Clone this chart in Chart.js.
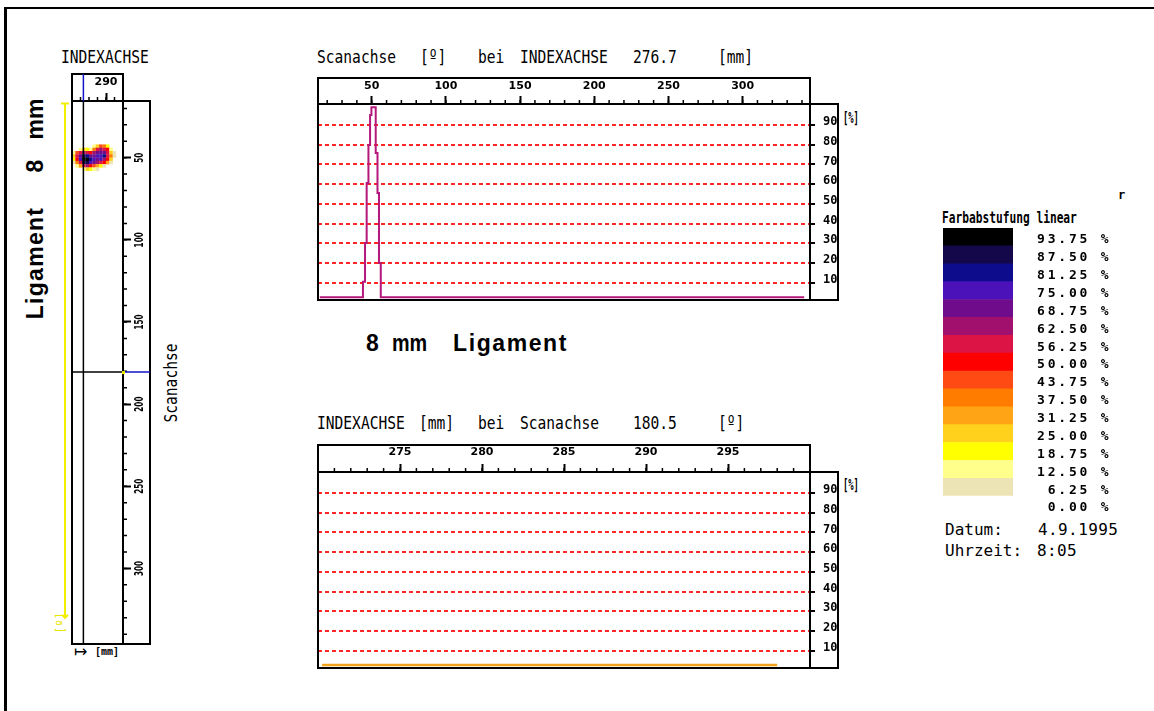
<!DOCTYPE html>
<html lang="de">
<head>
<meta charset="utf-8">
<title>Ligament 8 mm – Scanachse / INDEXACHSE</title>
<script src="https://cdn.jsdelivr.net/npm/chart.js@4.4.1/dist/chart.umd.min.js"></script>
<style>
  html, body { margin: 0; padding: 0; background: #fff; }
  body { position: relative; width: 1154px; height: 711px; overflow: hidden; }
  .frame { position: absolute; left: 4px; top: 7px; width: 1170px; height: 720px;
           border-left: 3px solid #000; border-top: 2px solid #000; }
  canvas { position: absolute; }
  .t { position: absolute; white-space: pre; color: #000; font-family: 'DejaVu Sans Mono', monospace; }
  .hd { font-size: 18px; line-height: 18px; transform: scaleX(0.81); transform-origin: 0 0; }
  .pc { font-size: 16px; line-height: 16px; font-weight: bold; transform: scaleX(0.55); transform-origin: 0 0; }
  .big { font-family: 'Liberation Sans', Arial, sans-serif; font-weight: bold; font-size: 23px; line-height: 23px; }
  .lg { font-size: 16px; line-height: 16px; }
</style>
</head>
<body>
<div class="frame"></div>

<!-- C-scan strip captions -->
<div class="t hd" style="left:61px; top:48px;">INDEXACHSE</div>
<div class="t hd" style="left:170.5px; top:382.5px; transform:translate(-50%,-50%) rotate(-90deg) scaleX(0.81); transform-origin:50% 50%;">Scanachse</div>
<div class="t big" style="left:35px; top:262.5px; letter-spacing:1.3px; transform:translate(-50%,-50%) rotate(-90deg);">Ligament</div>
<div class="t big" style="left:35px; top:165.5px; transform:translate(-50%,-50%) rotate(-90deg);">8</div>
<div class="t big" style="left:35px; top:118.5px; transform:translate(-50%,-50%) rotate(-90deg);">mm</div>
<div class="t" style="left:61px; top:622.5px; font-size:12px; line-height:12px; color:#e6e600; transform:translate(-50%,-50%) rotate(-90deg);">[º]</div>
<div class="t" style="left:74px; top:643.5px; font-size:16px; line-height:16px; font-family:'DejaVu Sans',sans-serif;">↦</div>
<div class="t" style="left:95px; top:647px; font-size:10px; line-height:10px; font-weight:bold;">[mm]</div>

<!-- profile headers -->
<div class="t hd" style="left:317px; top:48px;">Scanachse</div>
<div class="t hd" style="left:420px; top:48px;">[º]</div>
<div class="t hd" style="left:478px; top:48px;">bei</div>
<div class="t hd" style="left:520px; top:48px;">INDEXACHSE</div>
<div class="t hd" style="left:633px; top:48px;">276.7</div>
<div class="t hd" style="left:718px; top:48px;">[mm]</div>
<div class="t pc" style="left:843px; top:109.5px;">[%]</div>

<div class="t big" style="left:366px; top:331.5px;">8</div>
<div class="t big" style="left:392px; top:331.5px; transform:scaleX(0.86); transform-origin:0 0;">mm</div>
<div class="t big" style="left:453px; top:331.5px; letter-spacing:1.6px;">Ligament</div>

<div class="t hd" style="left:317px; top:414px;">INDEXACHSE</div>
<div class="t hd" style="left:419px; top:414px;">[mm]</div>
<div class="t hd" style="left:478px; top:414px;">bei</div>
<div class="t hd" style="left:520px; top:414px;">Scanachse</div>
<div class="t hd" style="left:633px; top:414px;">180.5</div>
<div class="t hd" style="left:718px; top:414px;">[º]</div>
<div class="t pc" style="left:843px; top:477px;">[%]</div>

<!-- colour scale captions -->
<div class="t" style="left:942px; top:210px; font-size:16px; line-height:16px; font-weight:bold; transform:scaleX(0.7); transform-origin:0 0;">Farbabstufung linear</div>
<div class="t" style="left:1118px; top:189px; font-size:12px; line-height:12px; font-weight:bold;">r</div>
<div class="t lg" style="left:945px; top:521.5px;">Datum:</div>
<div class="t lg" style="left:1038px; top:521.5px; letter-spacing:0.4px;">4.9.1995</div>
<div class="t lg" style="left:945px; top:543px;">Uhrzeit:</div>
<div class="t lg" style="left:1037px; top:543px; letter-spacing:0.4px;">8:05</div>

<canvas id="strip" width="140" height="600" style="left:40px; top:60px;"></canvas>
<canvas id="scanProfile" width="580" height="260" style="left:300px; top:60px;"></canvas>
<canvas id="indexProfile" width="580" height="261" style="left:300px; top:427px;"></canvas>
<canvas id="colorScale" width="210" height="366" style="left:930px; top:188px;"></canvas>

<script>
// ---------------- values ----------------
const scanMajorTicks  = [50, 100, 150, 200, 250, 300];
const indexMajorTicks = [275, 280, 285, 290, 295];
const stripIndexTicks = [290];
const percentTicks    = [10, 20, 30, 40, 50, 60, 70, 80, 90];

// axis spans
const scanRange      = [13.8, 345.4];
const stripScanRange = [15.5, 346];
const indexRange     = [270, 300];
const percentRange   = [1.2, 100.7];

// cursor positions shown in the headers
const indexCursor = 276.7;
const scanCursor  = 180.5;
const scanGate    = [17, 330];

// amplitude along the scan axis at INDEXACHSE 276.7 mm (step profile)
const scanPositions  = [15.0, 44.1, 45.5, 46.6, 47.8, 48.9, 49.8, 52.7, 53.9, 54.9, 56.1, 341.5];
const scanAmplitudes = [2.6, 10.5, 30.1, 60.6, 79.9, 95.1, 99.0, 75.8, 55.5, 20.0, 2.6, 2.6];

// amplitude along the index axis at Scanachse 180.5°
const indexPositions  = [270.25, 298.0];
const indexAmplitudes = [2.7, 2.7];

// C-scan cells around the indication (rows: Scanachse °, columns: INDEXACHSE mm, values: %)
const blobIndex = [271, 273, 275, 277, 279, 281, 283, 285, 287, 289, 291, 293, 295];
const blobScan  = [43, 45, 47, 49, 51, 53, 55, 57];
const blobAmp = [
  [ 0,  0,  0,  0,  0,  0, 14, 30, 45, 40, 20,  0,  0],
  [ 0,  0, 14, 25, 20, 18, 40, 58, 66, 62, 52, 15,  0],
  [14, 45, 58, 66, 60, 55, 66, 70, 72, 74, 60, 30,  8],
  [25, 58, 72, 90, 86, 70, 72, 76, 80, 84, 62, 40, 12],
  [20, 55, 76, 99, 96, 82, 78, 72, 76, 68, 55, 28,  0],
  [12, 40, 62, 92, 88, 78, 70, 64, 60, 50, 32, 10,  0],
  [ 0, 14, 35, 58, 64, 56, 46, 34, 22, 12,  0,  0,  0],
  [ 0,  0,  0, 18, 26, 24, 16,  8,  0,  0,  0,  0,  0]
];

// linear colour grading
const levelValues = [0, 6.25, 12.5, 18.75, 25, 31.25, 37.5, 43.75, 50, 56.25, 62.5, 68.75, 75, 81.25, 87.5, 93.75];
const levelColors = ['#ffffff', '#ece4b4', '#ffff8c', '#ffff00', '#ffd01c', '#ffa414', '#ff7c00', '#ff4a14',
                     '#ff0000', '#dc1446', '#a0106c', '#6e0c8c', '#4a12b8', '#0c0c8c', '#14084a', '#000000'];

// ---------------- helpers ----------------
const levelColor = v => {
  let k = 0;
  for (let i = 0; i < levelValues.length; i++) if (v >= levelValues[i]) k = i;
  return levelColors[k];
};

const tickFont = { family: "'DejaVu Sans', sans-serif", weight: 'bold', size: 11 };
const pctFont  = { family: "'DejaVu Sans Mono', monospace", weight: 'bold', size: 12 };

// black boxes: tick band, plot area and side axis box
const frameBoxes = {
  id: 'frameBoxes',
  afterDraw(chart) {
    const { ctx, chartArea: a, scales: { x, y } } = chart;
    ctx.save();
    ctx.strokeStyle = '#000';
    ctx.lineWidth = 2;
    ctx.strokeRect(a.left, x.top, a.right - a.left, a.top - x.top);
    ctx.strokeRect(a.left, a.top, a.right - a.left, a.bottom - a.top);
    ctx.strokeRect(a.right, a.top, y.right - a.right, a.bottom - a.top);
    ctx.restore();
  }
};

// short intermediate tick marks between the labelled ones
const minorTicks = {
  id: 'minorTicks',
  afterDraw(chart, args, opts) {
    if (!opts || !opts.list) return;
    const { ctx } = chart;
    ctx.save();
    ctx.strokeStyle = '#000';
    ctx.lineWidth = 1.5;
    for (const m of opts.list) {
      const s = chart.scales[m.axis];
      const first = Math.ceil(s.min / m.step) * m.step;
      ctx.beginPath();
      for (let v = first; v <= s.max + 1e-9; v += m.step) {
        const p = s.getPixelForValue(v);
        if (s.isHorizontal()) { ctx.moveTo(p, s.bottom); ctx.lineTo(p, s.bottom - m.length); }
        else { ctx.moveTo(s.left, p); ctx.lineTo(s.left + m.length, p); }
      }
      ctx.stroke();
    }
    ctx.restore();
  }
};

// upright-reading labels of the vertical scan axis
const sideLabels = {
  id: 'sideLabels',
  afterDraw(chart, args, opts) {
    const s = chart.scales.y;
    const { ctx } = chart;
    ctx.save();
    ctx.fillStyle = '#000';
    ctx.font = opts.font;
    ctx.textAlign = 'center';
    ctx.textBaseline = 'middle';
    for (const v of opts.values) {
      const p = s.getPixelForValue(v);
      ctx.save();
      ctx.translate(s.left + opts.offset, p);
      ctx.rotate(-Math.PI / 2);
      ctx.scale(opts.squeeze, 1);
      ctx.fillText(String(v), 0, 0);
      ctx.restore();
    }
    ctx.restore();
  }
};

// cursor continuation inside the axis boxes and the scan gate marker
const cursorMarks = {
  id: 'cursorMarks',
  afterDraw(chart, args, opts) {
    const { ctx, chartArea: a, scales: { x, y } } = chart;
    const cx = x.getPixelForValue(opts.index);
    const cy = y.getPixelForValue(opts.scan);
    ctx.save();
    ctx.strokeStyle = '#1414c8';
    ctx.lineWidth = 1.5;
    ctx.beginPath();
    ctx.moveTo(cx, x.top); ctx.lineTo(cx, a.top);
    ctx.moveTo(a.right, cy); ctx.lineTo(y.right, cy);
    ctx.stroke();
    ctx.fillStyle = '#f0f000';
    ctx.fillRect(a.right - 1, cy - 1, 3, 3);
    const g0 = y.getPixelForValue(opts.gate[0]);
    const g1 = y.getPixelForValue(opts.gate[1]);
    const gx = a.left - 7;
    ctx.strokeStyle = '#f2f000';
    ctx.lineWidth = 2;
    ctx.beginPath();
    ctx.moveTo(gx, g0); ctx.lineTo(gx, g1);
    ctx.moveTo(gx - 4, g0); ctx.lineTo(gx + 4, g0);
    ctx.moveTo(gx - 3, g1 - 3); ctx.lineTo(gx, g1); ctx.lineTo(gx + 3, g1 - 3);
    ctx.stroke();
    ctx.restore();
  }
};

// wide letter spacing for the colour-scale labels
const spacedLabels = {
  id: 'spacedLabels',
  beforeDraw(chart) { chart.ctx.letterSpacing = '2.8px'; },
  afterDraw(chart) { chart.ctx.letterSpacing = '0px'; }
};

const base = { responsive: false, animation: false, devicePixelRatio: 1, events: [] };

// ---------------- C-scan strip ----------------
const blobPoints = [];
blobScan.forEach((s, r) => blobIndex.forEach((ix, c) => {
  const v = blobAmp[r][c];
  if (v >= levelValues[1]) blobPoints.push({ x: ix, y: s, v });
}));

new Chart(document.getElementById('strip'), {
  type: 'scatter',
  data: {
    datasets: [
      { data: [{ x: indexCursor, y: stripScanRange[0] }, { x: indexCursor, y: stripScanRange[1] }],
        showLine: true, borderColor: '#000', borderWidth: 1.5, pointRadius: 0 },
      { data: [{ x: indexRange[0], y: scanCursor }, { x: indexRange[1], y: scanCursor }],
        showLine: true, borderColor: '#000', borderWidth: 1.5, pointRadius: 0 },
      { data: blobPoints, pointStyle: 'rect', pointRadius: 2.5, borderWidth: 0,
        backgroundColor: blobPoints.map(p => levelColor(p.v)) }
    ]
  },
  options: {
    ...base,
    layout: { padding: { left: 32, top: 14, right: 30, bottom: 16 } },
    plugins: {
      legend: { display: false }, tooltip: { enabled: false },
      minorTicks: { list: [{ axis: 'x', step: 5, length: 4 }, { axis: 'y', step: 10, length: 4 }] },
      sideLabels: { values: scanMajorTicks, offset: 17, squeeze: 0.67,
                    font: "bold 12px 'DejaVu Sans Condensed', 'DejaVu Sans', sans-serif" },
      cursorMarks: { index: indexCursor, scan: scanCursor, gate: scanGate }
    },
    scales: {
      x: { type: 'linear', position: 'top', min: indexRange[0], max: indexRange[1],
           afterFit: s => { s.height = 27; },
           afterBuildTicks: s => { s.ticks = stripIndexTicks.map(v => ({ value: v })); },
           ticks: { autoSkip: false, maxRotation: 0, minRotation: 0, padding: 4, color: '#000', font: tickFont },
           grid: { drawOnChartArea: false, tickLength: 8, tickWidth: 2, tickColor: '#000' },
           border: { display: false } },
      y: { type: 'linear', position: 'right', reverse: true, min: stripScanRange[0], max: stripScanRange[1],
           afterFit: s => { s.width = 27; },
           afterBuildTicks: s => { s.ticks = scanMajorTicks.map(v => ({ value: v })); },
           ticks: { display: false },
           grid: { drawOnChartArea: false, tickLength: 8, tickWidth: 2, tickColor: '#000' },
           border: { display: false } }
    }
  },
  plugins: [frameBoxes, minorTicks, sideLabels, cursorMarks]
});

// ---------------- A-scan profiles ----------------
function drawProfile(id, cfg) {
  return new Chart(document.getElementById(id), {
    type: 'line',
    data: {
      datasets: [{
        data: cfg.xs.map((x, i) => ({ x, y: cfg.ys[i] })),
        borderColor: cfg.color, borderWidth: cfg.width, pointRadius: 0,
        stepped: true, fill: false, tension: 0
      }]
    },
    options: {
      ...base,
      layout: { padding: { left: 18, top: 18, right: 42, bottom: 20 } },
      plugins: {
        legend: { display: false }, tooltip: { enabled: false },
        minorTicks: { list: [{ axis: 'x', step: cfg.minorStep, length: 4 }] }
      },
      scales: {
        x: { type: 'linear', position: 'top', min: cfg.range[0], max: cfg.range[1],
             afterFit: s => { s.height = cfg.band; },
             afterBuildTicks: s => { s.ticks = cfg.ticks.map(v => ({ value: v })); },
             ticks: { autoSkip: false, maxRotation: 0, minRotation: 0, padding: cfg.labelPad, color: '#000', font: tickFont },
             grid: { drawOnChartArea: false, tickLength: 8, tickWidth: 2, tickColor: '#000' },
             border: { display: false } },
        y: { type: 'linear', position: 'right', min: percentRange[0], max: percentRange[1],
             afterFit: s => { s.width = 28; },
             afterBuildTicks: s => { s.ticks = percentTicks.map(v => ({ value: v })); },
             ticks: { autoSkip: false, padding: 8, labelOffset: -3, color: '#000', font: pctFont },
             grid: { color: '#ff2626', lineWidth: 2, tickLength: 5, tickWidth: 2, tickColor: '#000', tickBorderDash: [] },
             border: { display: false, dash: [4, 3] } }
      }
    },
    plugins: [frameBoxes, minorTicks]
  });
}

drawProfile('scanProfile', {
  xs: scanPositions, ys: scanAmplitudes, color: '#b5177a', width: 2,
  range: scanRange, ticks: scanMajorTicks, minorStep: 10, band: 26, labelPad: 3
});

drawProfile('indexProfile', {
  xs: indexPositions, ys: indexAmplitudes, color: '#f2a51a', width: 2.5,
  range: indexRange, ticks: indexMajorTicks, minorStep: 1, band: 27, labelPad: 5
});

// ---------------- colour scale ----------------
new Chart(document.getElementById('colorScale'), {
  type: 'bar',
  data: {
    labels: [''],
    datasets: levelValues.map((v, k) => ({
      data: [(k + 1 < levelValues.length ? levelValues[k + 1] : 100) - v],
      backgroundColor: levelColors[k], borderWidth: 0,
      barPercentage: 1, categoryPercentage: 1
    }))
  },
  options: {
    ...base,
    layout: { padding: { left: 13, top: 40, right: 0, bottom: 40 } },
    plugins: { legend: { display: false }, tooltip: { enabled: false } },
    scales: {
      x: { display: false, stacked: true },
      y: { stacked: true, position: 'right', min: 0, max: 100,
           afterFit: s => { s.width = 127; },
           afterBuildTicks: s => { s.ticks = levelValues.map(v => ({ value: v + (levelValues[1] - levelValues[0]) / 2 })); },
           ticks: { autoSkip: false, padding: 24, labelOffset: 3, color: '#000',
                    font: { family: "'DejaVu Sans Mono', monospace", weight: 'bold', size: 13 },
                    callback: (val, i) => levelValues[i].toFixed(2).padStart(5) + ' %' },
           grid: { display: false, drawTicks: false },
           border: { display: false } }
    }
  },
  plugins: [spacedLabels]
});
</script>
</body>
</html>
